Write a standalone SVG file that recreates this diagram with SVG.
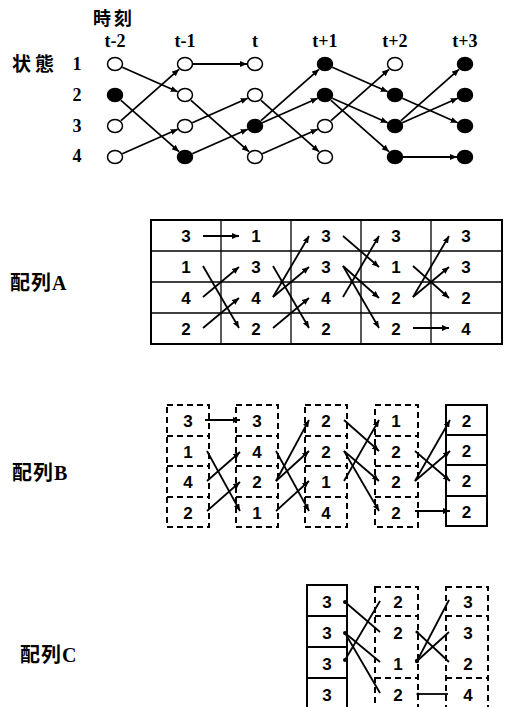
<svg xmlns="http://www.w3.org/2000/svg" width="506" height="707" viewBox="0 0 506 707">
<style>
.lbl{font-family:"Liberation Serif","Noto Sans CJK JP",serif;font-weight:bold;fill:#000}
.num{font-family:"Liberation Sans",Arial,sans-serif;font-weight:bold;font-size:17px;fill:#000;text-anchor:middle}
.open{fill:#fff;stroke:#000;stroke-width:1.5}
.full{fill:#000;stroke:#000;stroke-width:1.5}
.edge{stroke:#000;stroke-width:1.8;fill:none;marker-end:url(#ah)}
.cedge{stroke:#000;stroke-width:1.8;fill:none}
.solid{fill:none;stroke:#000;stroke-width:2}
.thin{fill:none;stroke:#000;stroke-width:1.3}
.dash{fill:none;stroke:#000;stroke-width:2;stroke-dasharray:6 4}
</style>
<defs>
<marker id="ah" markerUnits="userSpaceOnUse" markerWidth="8" markerHeight="6" refX="7" refY="3" orient="auto">
<path d="M0,0 L7,3 L0,6 z" fill="#000"/>
</marker>
</defs>
<rect width="506" height="707" fill="#fff"/>

<!-- top labels -->
<g id="labels-top">
<text class="lbl" x="93" y="25" font-size="18" letter-spacing="3">時刻</text>
<text class="lbl" x="12" y="71" font-size="19" letter-spacing="4">状態</text>
<g font-size="18" text-anchor="middle">
<text class="lbl" x="115" y="47">t-2</text>
<text class="lbl" x="185" y="47">t-1</text>
<text class="lbl" x="255" y="47">t</text>
<text class="lbl" x="325" y="47">t+1</text>
<text class="lbl" x="395" y="47">t+2</text>
<text class="lbl" x="465" y="47">t+3</text>
<text class="lbl" x="77" y="70">1</text>
<text class="lbl" x="77" y="101">2</text>
<text class="lbl" x="77" y="132">3</text>
<text class="lbl" x="77" y="162">4</text>
</g>
</g>

<!-- trellis connectors -->
<g id="trellis-edges">
<line class="edge" x1="122.3" y1="67.2" x2="177.7" y2="91.8"/>
<line class="edge" x1="121" y1="100.3" x2="179" y2="151.7"/>
<line class="edge" x1="121" y1="120.7" x2="179" y2="69.3"/>
<line class="edge" x1="122.3" y1="153.8" x2="177.7" y2="129.2"/>
<line class="edge" x1="193" y1="64" x2="247" y2="64"/>
<line class="edge" x1="191" y1="100.3" x2="249" y2="151.7"/>
<line class="edge" x1="192.3" y1="122.8" x2="247.7" y2="98.2"/>
<line class="edge" x1="192.3" y1="153.8" x2="247.7" y2="129.2"/>
<line class="edge" x1="261" y1="120.7" x2="319" y2="69.3"/>
<line class="edge" x1="262.3" y1="122.8" x2="317.7" y2="98.2"/>
<line class="edge" x1="262.3" y1="153.8" x2="317.7" y2="129.2"/>
<line class="edge" x1="261" y1="100.3" x2="319" y2="151.7"/>
<line class="edge" x1="332.3" y1="67.2" x2="387.7" y2="91.8"/>
<line class="edge" x1="332.3" y1="98.2" x2="387.7" y2="122.8"/>
<line class="edge" x1="331" y1="100.3" x2="389" y2="151.7"/>
<line class="edge" x1="331" y1="120.7" x2="389" y2="69.3"/>
<line class="edge" x1="401" y1="120.7" x2="459" y2="69.3"/>
<line class="edge" x1="402.3" y1="122.8" x2="457.7" y2="98.2"/>
<line class="edge" x1="402.3" y1="98.2" x2="457.7" y2="122.8"/>
<line class="edge" x1="403" y1="157" x2="457" y2="157"/>
</g>

<!-- trellis nodes -->
<g id="n-tm2">
<ellipse class="open" cx="115" cy="64" rx="7.5" ry="6.5"/>
<ellipse class="full" cx="115" cy="95" rx="7.5" ry="6.5"/>
<ellipse class="open" cx="115" cy="126" rx="7.5" ry="6.5"/>
<ellipse class="open" cx="115" cy="157" rx="7.5" ry="6.5"/>
</g>
<g id="n-tm1">
<ellipse class="open" cx="185" cy="64" rx="7.5" ry="6.5"/>
<ellipse class="open" cx="185" cy="95" rx="7.5" ry="6.5"/>
<ellipse class="open" cx="185" cy="126" rx="7.5" ry="6.5"/>
<ellipse class="full" cx="185" cy="157" rx="7.5" ry="6.5"/>
</g>
<g id="n-t">
<ellipse class="open" cx="255" cy="64" rx="7.5" ry="6.5"/>
<ellipse class="open" cx="255" cy="95" rx="7.5" ry="6.5"/>
<ellipse class="full" cx="255" cy="126" rx="7.5" ry="6.5"/>
<ellipse class="open" cx="255" cy="157" rx="7.5" ry="6.5"/>
</g>
<g id="n-tp1">
<ellipse class="full" cx="325" cy="64" rx="7.5" ry="6.5"/>
<ellipse class="full" cx="325" cy="95" rx="7.5" ry="6.5"/>
<ellipse class="open" cx="325" cy="126" rx="7.5" ry="6.5"/>
<ellipse class="open" cx="325" cy="157" rx="7.5" ry="6.5"/>
</g>
<g id="n-tp2">
<ellipse class="open" cx="395" cy="64" rx="7.5" ry="6.5"/>
<ellipse class="full" cx="395" cy="95" rx="7.5" ry="6.5"/>
<ellipse class="full" cx="395" cy="126" rx="7.5" ry="6.5"/>
<ellipse class="full" cx="395" cy="157" rx="7.5" ry="6.5"/>
</g>
<g id="n-tp3">
<ellipse class="full" cx="465" cy="64" rx="7.5" ry="6.5"/>
<ellipse class="full" cx="465" cy="95" rx="7.5" ry="6.5"/>
<ellipse class="full" cx="465" cy="126" rx="7.5" ry="6.5"/>
<ellipse class="full" cx="465" cy="157" rx="7.5" ry="6.5"/>
</g>

<!-- Array A -->
<g id="labelA"><text class="lbl" x="10" y="290" font-size="20" letter-spacing="1">配列A</text></g>
<g id="arrayA">
<line class="thin" x1="151" y1="251" x2="502" y2="251"/>
<line class="thin" x1="151" y1="282" x2="502" y2="282"/>
<line class="thin" x1="151" y1="313" x2="502" y2="313"/>
<line class="thin" x1="221" y1="220" x2="221" y2="344"/>
<line class="thin" x1="291" y1="220" x2="291" y2="344"/>
<line class="thin" x1="361" y1="220" x2="361" y2="344"/>
<line class="thin" x1="431" y1="220" x2="431" y2="344"/>
<rect class="solid" x="151" y="220" width="351" height="124"/>
<g id="A-c1"><text class="num" x="186" y="242">3</text><text class="num" x="186" y="273">1</text><text class="num" x="186" y="304">4</text><text class="num" x="186" y="335">2</text></g>
<g id="A-c2"><text class="num" x="256" y="242">1</text><text class="num" x="256" y="273">3</text><text class="num" x="256" y="304">4</text><text class="num" x="256" y="335">2</text></g>
<g id="A-c3"><text class="num" x="326" y="242">3</text><text class="num" x="326" y="273">3</text><text class="num" x="326" y="304">4</text><text class="num" x="326" y="335">2</text></g>
<g id="A-c4"><text class="num" x="396" y="242">3</text><text class="num" x="396" y="273">1</text><text class="num" x="396" y="304">2</text><text class="num" x="396" y="335">2</text></g>
<g id="A-c5"><text class="num" x="466" y="242">3</text><text class="num" x="466" y="273">3</text><text class="num" x="466" y="304">2</text><text class="num" x="466" y="335">4</text></g>
</g>
<g id="arrayA-edges">
<line class="edge" x1="203" y1="236" x2="239" y2="236"/>
<line class="edge" x1="203" y1="266" x2="239" y2="328"/>
<line class="edge" x1="203" y1="297" x2="239" y2="267"/>
<line class="edge" x1="203" y1="328" x2="239" y2="298"/>
<line class="edge" x1="273" y1="297" x2="309" y2="236"/>
<line class="edge" x1="273" y1="297" x2="309" y2="267"/>
<line class="edge" x1="273" y1="328" x2="309" y2="298"/>
<line class="edge" x1="273" y1="266" x2="309" y2="328"/>
<line class="edge" x1="343" y1="236" x2="379" y2="267"/>
<line class="edge" x1="343" y1="266" x2="379" y2="298"/>
<line class="edge" x1="343" y1="266" x2="379" y2="328"/>
<line class="edge" x1="343" y1="297" x2="379" y2="236"/>
<line class="edge" x1="413" y1="297" x2="449" y2="236"/>
<line class="edge" x1="413" y1="297" x2="449" y2="267"/>
<line class="edge" x1="413" y1="266" x2="449" y2="298"/>
<line class="edge" x1="413" y1="328" x2="449" y2="328"/>
</g>

<!-- Array B -->
<g id="labelB"><text class="lbl" x="12" y="480" font-size="20" letter-spacing="1">配列B</text></g>
<g id="arrayB">
<g id="B-c1">
<rect class="dash" x="167" y="405" width="42" height="122"/>
<line class="dash" x1="167" y1="436" x2="209" y2="436"/><line class="dash" x1="167" y1="466" x2="209" y2="466"/><line class="dash" x1="167" y1="497" x2="209" y2="497"/>
<text class="num" x="188" y="427">3</text><text class="num" x="188" y="458">1</text><text class="num" x="188" y="488">4</text><text class="num" x="188" y="519">2</text>
</g>
<g id="B-c2">
<rect class="dash" x="236" y="405" width="42" height="122"/>
<line class="dash" x1="236" y1="436" x2="278" y2="436"/><line class="dash" x1="236" y1="466" x2="278" y2="466"/><line class="dash" x1="236" y1="497" x2="278" y2="497"/>
<text class="num" x="257" y="427">3</text><text class="num" x="257" y="458">4</text><text class="num" x="257" y="488">2</text><text class="num" x="257" y="519">1</text>
</g>
<g id="B-c3">
<rect class="dash" x="305" y="405" width="42" height="122"/>
<line class="dash" x1="305" y1="436" x2="347" y2="436"/><line class="dash" x1="305" y1="466" x2="347" y2="466"/><line class="dash" x1="305" y1="497" x2="347" y2="497"/>
<text class="num" x="326" y="427">2</text><text class="num" x="326" y="458">2</text><text class="num" x="326" y="488">1</text><text class="num" x="326" y="519">4</text>
</g>
<g id="B-c4">
<rect class="dash" x="375" y="405" width="43" height="122"/>
<line class="dash" x1="375" y1="436" x2="418" y2="436"/><line class="dash" x1="375" y1="466" x2="418" y2="466"/><line class="dash" x1="375" y1="497" x2="418" y2="497"/>
<text class="num" x="396" y="427">1</text><text class="num" x="396" y="458">2</text><text class="num" x="396" y="488">2</text><text class="num" x="396" y="519">2</text>
</g>
<g id="B-c5">
<rect class="solid" x="446" y="405" width="41" height="121"/>
<line class="solid" x1="446" y1="435" x2="487" y2="435"/><line class="solid" x1="446" y1="465" x2="487" y2="465"/><line class="solid" x1="446" y1="496" x2="487" y2="496"/>
<text class="num" x="466.5" y="427">2</text><text class="num" x="466.5" y="457">2</text><text class="num" x="466.5" y="487">2</text><text class="num" x="466.5" y="518">2</text>
</g>
</g>
<g id="arrayB-edges">
<line class="edge" x1="205" y1="420" x2="240" y2="420"/>
<line class="edge" x1="207" y1="451" x2="240" y2="511"/>
<line class="edge" x1="207" y1="481" x2="240" y2="452"/>
<line class="edge" x1="207" y1="511" x2="240" y2="482"/>
<line class="edge" x1="276" y1="481" x2="309" y2="420"/>
<line class="edge" x1="276" y1="481" x2="309" y2="451"/>
<line class="edge" x1="276" y1="511" x2="309" y2="481"/>
<line class="edge" x1="276" y1="451" x2="309" y2="511"/>
<line class="edge" x1="344" y1="420" x2="379" y2="451"/>
<line class="edge" x1="344" y1="451" x2="379" y2="481"/>
<line class="edge" x1="344" y1="451" x2="379" y2="511"/>
<line class="edge" x1="344" y1="481" x2="379" y2="420"/>
<line class="edge" x1="415" y1="481" x2="450" y2="420"/>
<line class="edge" x1="415" y1="481" x2="450" y2="451"/>
<line class="edge" x1="415" y1="451" x2="450" y2="481"/>
<line class="edge" x1="415" y1="511" x2="450" y2="511"/>
</g>

<!-- Array C -->
<g id="labelC"><text class="lbl" x="20" y="662" font-size="20" letter-spacing="1">配列C</text></g>
<g id="arrayC">
<g id="C-c1">
<rect class="solid" x="307" y="585" width="40" height="130"/>
<line class="solid" x1="307" y1="616" x2="347" y2="616"/><line class="solid" x1="307" y1="647" x2="347" y2="647"/><line class="solid" x1="307" y1="678" x2="347" y2="678"/>
<text class="num" x="327" y="608">3</text><text class="num" x="327" y="639">3</text><text class="num" x="327" y="670">3</text><text class="num" x="327" y="701">3</text>
</g>
<g id="C-c2">
<rect class="dash" x="375" y="587" width="43" height="130"/>
<line class="dash" x1="375" y1="616" x2="418" y2="616"/><line class="dash" x1="375" y1="678" x2="418" y2="678"/>
<text class="num" x="398" y="608">2</text><text class="num" x="398" y="639">2</text><text class="num" x="398" y="670">1</text><text class="num" x="398" y="701">2</text>
</g>
<g id="C-c3">
<rect class="dash" x="446" y="587" width="42" height="130"/>
<line class="dash" x1="446" y1="616" x2="488" y2="616"/><line class="dash" x1="446" y1="678" x2="488" y2="678"/>
<text class="num" x="468" y="608">3</text><text class="num" x="468" y="639">3</text><text class="num" x="468" y="670">2</text><text class="num" x="468" y="701">4</text>
</g>
</g>
<g id="arrayC-edges">
<line class="cedge" x1="345" y1="602" x2="380" y2="632"/>
<line class="cedge" x1="345" y1="633" x2="380" y2="662"/>
<line class="cedge" x1="345" y1="633" x2="380" y2="693"/>
<line class="cedge" x1="345" y1="660" x2="380" y2="601"/>
<line class="cedge" x1="417" y1="661" x2="449" y2="600"/>
<line class="cedge" x1="417" y1="661" x2="449" y2="632"/>
<line class="cedge" x1="417" y1="632" x2="449" y2="662"/>
<line class="cedge" x1="418" y1="694" x2="448" y2="694"/>
<circle cx="345" cy="602" r="2"/>
<circle cx="345" cy="633" r="2"/>
<circle cx="345" cy="660" r="2"/>
<circle cx="417" cy="661" r="2.2"/>
<circle cx="417" cy="632" r="1.6"/>
<circle cx="418" cy="694" r="1.6"/>
</g>
</svg>
